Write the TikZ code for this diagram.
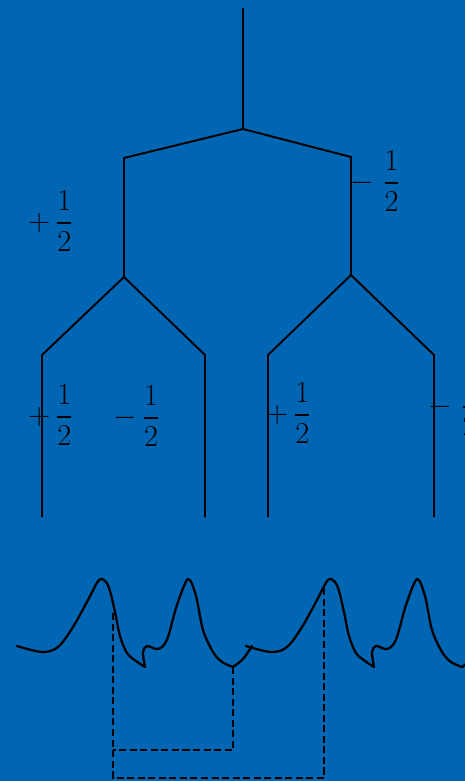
\documentclass[tikz,border=0pt]{standalone}
\usepackage{amsmath}
\definecolor{slideblue}{RGB}{0,101,178}

\begin{document}
\begin{tikzpicture}[
    x=0.02cm, y=-0.02cm,
    branch/.style={draw=black, line width=1.1pt},
    wave/.style={draw=black, line width=1.3pt, line join=round, line cap=round},
    guide/.style={draw=black, line width=1pt, dash pattern=on 4pt off 2pt},
    spin/.style={font=\fontsize{16.5}{20}\selectfont, inner sep=0pt, anchor=west},
  ]

  % page and background
  \path[use as bounding box, fill=slideblue] (0,0) rectangle (465,781);
  \clip (0,0) rectangle (465,781);

  % the splitting tree
  \coordinate (stem)   at (243,8);
  \coordinate (root)   at (243,129);
  \coordinate (up)     at (124,158);
  \coordinate (dn)     at (351,157);
  \coordinate (upfork) at (124,277);
  \coordinate (dnfork) at (351,275);
  \coordinate (uu) at (42,355);  \coordinate (uuend) at (42,517);
  \coordinate (ud) at (205,355); \coordinate (udend) at (205,517);
  \coordinate (du) at (268,355); \coordinate (duend) at (268,517);
  \coordinate (dd) at (434,355); \coordinate (ddend) at (434,517);

  \draw[branch] (stem) -- (root);
  \draw[branch] (upfork) -- (up) -- (root) -- (dn) -- (dnfork);
  \draw[branch] (uuend) -- (uu) -- (upfork) -- (ud) -- (udend);
  \draw[branch] (duend) -- (du) -- (dnfork) -- (dd) -- (ddend);

  % spin labels
  \node[spin] (hUp)   at (28,221)  {$+\,\dfrac{1}{2}$};
  \node[spin] (hDn)   at (350,181) {$-\;\dfrac{1}{2}$};
  \node[spin] (hUpUp) at (28,415)  {$+\,\dfrac{1}{2}$};
  \node[spin] (hUpDn) at (113,416) {$-\,\dfrac{1}{2}$};
  \node[spin] (hDnUp) at (266,413) {$+\,\dfrac{1}{2}$};
  \node[spin] (hDnDn) at (428,405) {$-\;\dfrac{1}{2}$};

  % the measured trace, two periods
  \foreach \s in {0,229} {
    \begin{scope}[shift={(\s,0)}]
      \draw[wave] plot[smooth, tension=0.55] coordinates {(17,646) (42,652) (58,647) (73,627) (88,600) (99,580) (106,582) (110,591) (115,612) (120,636) (127,653) (136,661) (145,667)}
        -- plot[smooth, tension=0.5] coordinates {(145,667) (143,652) (147,646) (156,649) (162,647) (168,637) (177,605) (188,579) (196,596) (203,630) (213,652) (222,662) (233,667)}
        -- plot[smooth, tension=0.5] coordinates {(233,667) (243,659) (252,646)};
    \end{scope}
  }

  % dashed markers
  \coordinate (m1)    at (113,613);
  \coordinate (m1low) at (113,778);
  \coordinate (m1mid) at (113,750);
  \coordinate (m2)    at (233,667);
  \coordinate (m2low) at (233,750);
  \coordinate (m3)    at (324,585);
  \coordinate (m3low) at (324,778);

  \draw[guide] (m1) -- (m1low) -- (m3low) -- (m3);
  \draw[guide] (m2) -- (m2low) -- (m1mid);

\end{tikzpicture}
\end{document}
